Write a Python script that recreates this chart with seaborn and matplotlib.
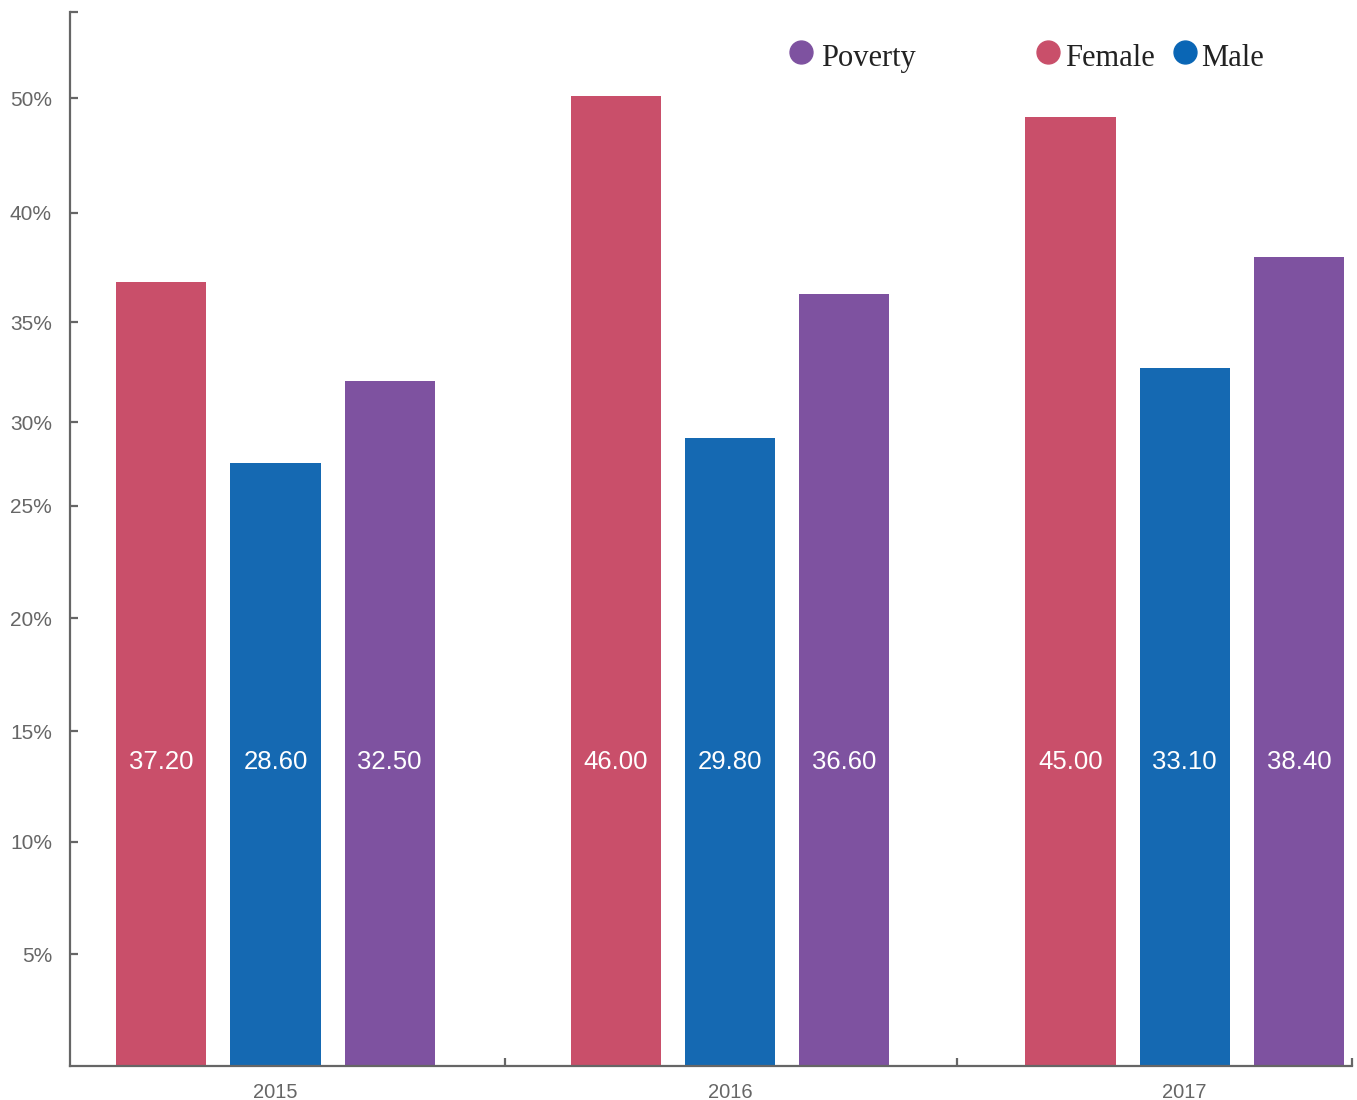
import matplotlib
matplotlib.use("Agg")
import matplotlib.pyplot as plt
from matplotlib.lines import Line2D
import seaborn as sns
import pandas as pd

# Chart data
years = ["2015", "2016", "2017"]
groups = ["Female", "Male", "Poverty"]
female = [37.20, 46.00, 45.00]
male = [28.60, 29.80, 33.10]
poverty = [32.50, 36.60, 38.40]

# Y-axis tick positions and their printed labels
ytick_pos = [5.31, 10.63, 15.89, 21.25, 26.57, 30.55, 35.29, 40.47, 45.92]
ytick_labels = ["5%", "10%", "15%", "20%", "25%", "30%", "35%", "40%", "50%"]

colors = {"Female": "#C94F6A", "Male": "#1569B2", "Poverty": "#7E52A0"}
legend_colors = {"Female": "#C94F6A", "Male": "#0A66B5", "Poverty": "#7E52A0"}

df = pd.DataFrame({
    "year": years * 3,
    "group": ["Female"] * 3 + ["Male"] * 3 + ["Poverty"] * 3,
    "value": female + male + poverty,
})

sns.set_theme(style="white")
plt.rcParams["font.family"] = ["Liberation Sans", "DejaVu Sans"]

fig = plt.figure(figsize=(13.57, 11.0), dpi=100)
ax = fig.add_axes([70 / 1357, 1 - 1066 / 1100, (1352 - 70) / 1357, (1066 - 12) / 1100])

sns.barplot(data=df, x="year", y="value", hue="group", hue_order=groups,
            order=years, palette=colors, width=0.754, gap=0.21,
            saturation=1, legend=False, ax=ax, errorbar=None, linewidth=0)

ax.set_xlim(-0.452, 2.368)
ax.set_ylim(0, 50)
ax.set_xlabel("")
ax.set_ylabel("")

axis_color = "#666666"
for side in ["top", "right"]:
    ax.spines[side].set_visible(False)
for side in ["left", "bottom"]:
    ax.spines[side].set_color(axis_color)
    ax.spines[side].set_linewidth(1.6)

# Y ticks pointing inward
ax.set_yticks(ytick_pos + [50])
ax.set_yticklabels(ytick_labels + [""])
ax.tick_params(axis="y", left=True, direction="in", length=6, width=1.6,
               color=axis_color, labelcolor="#666666", labelsize=15, pad=13)

# X: separators as major ticks, year labels as minor ticks
ax.set_xticks([0.505, 1.5, 2.368])
ax.set_xticklabels([])
ax.set_xticks([0, 1, 2], minor=True)
ax.set_xticklabels(years, minor=True)
ax.tick_params(axis="x", which="major", bottom=True, direction="in", length=6,
               width=1.6, color=axis_color)
ax.tick_params(axis="x", which="minor", bottom=True, length=0,
               labelcolor="#666666", labelsize=14.5, pad=12)

# Value labels inside bars
for container, g in zip(ax.containers, groups):
    vals = df[df["group"] == g]["value"].tolist()
    for patch, v in zip(container.patches, vals):
        cx = patch.get_x() + patch.get_width() / 2
        ax.text(cx, 14.4, f"{v:.2f}", ha="center", va="center",
                color="white", fontsize=18.5)

# Legend drawn in figure coordinates
legend_items = [("Poverty", 801, 821), ("Female", 1048, 1065), ("Male", 1185, 1201)]
for name, mx, tx in legend_items:
    fig.add_artist(Line2D([mx / 1357], [1 - 52 / 1100], marker="o",
                          markersize=16.5, color=legend_colors[name],
                          linestyle="none", transform=fig.transFigure))
    fig.text(tx / 1357, 1 - 66 / 1100, name, ha="left", va="baseline",
             fontsize=22, color="#222222",
             family=["Liberation Serif", "DejaVu Serif"])

fig.savefig("out.png", dpi=100)
